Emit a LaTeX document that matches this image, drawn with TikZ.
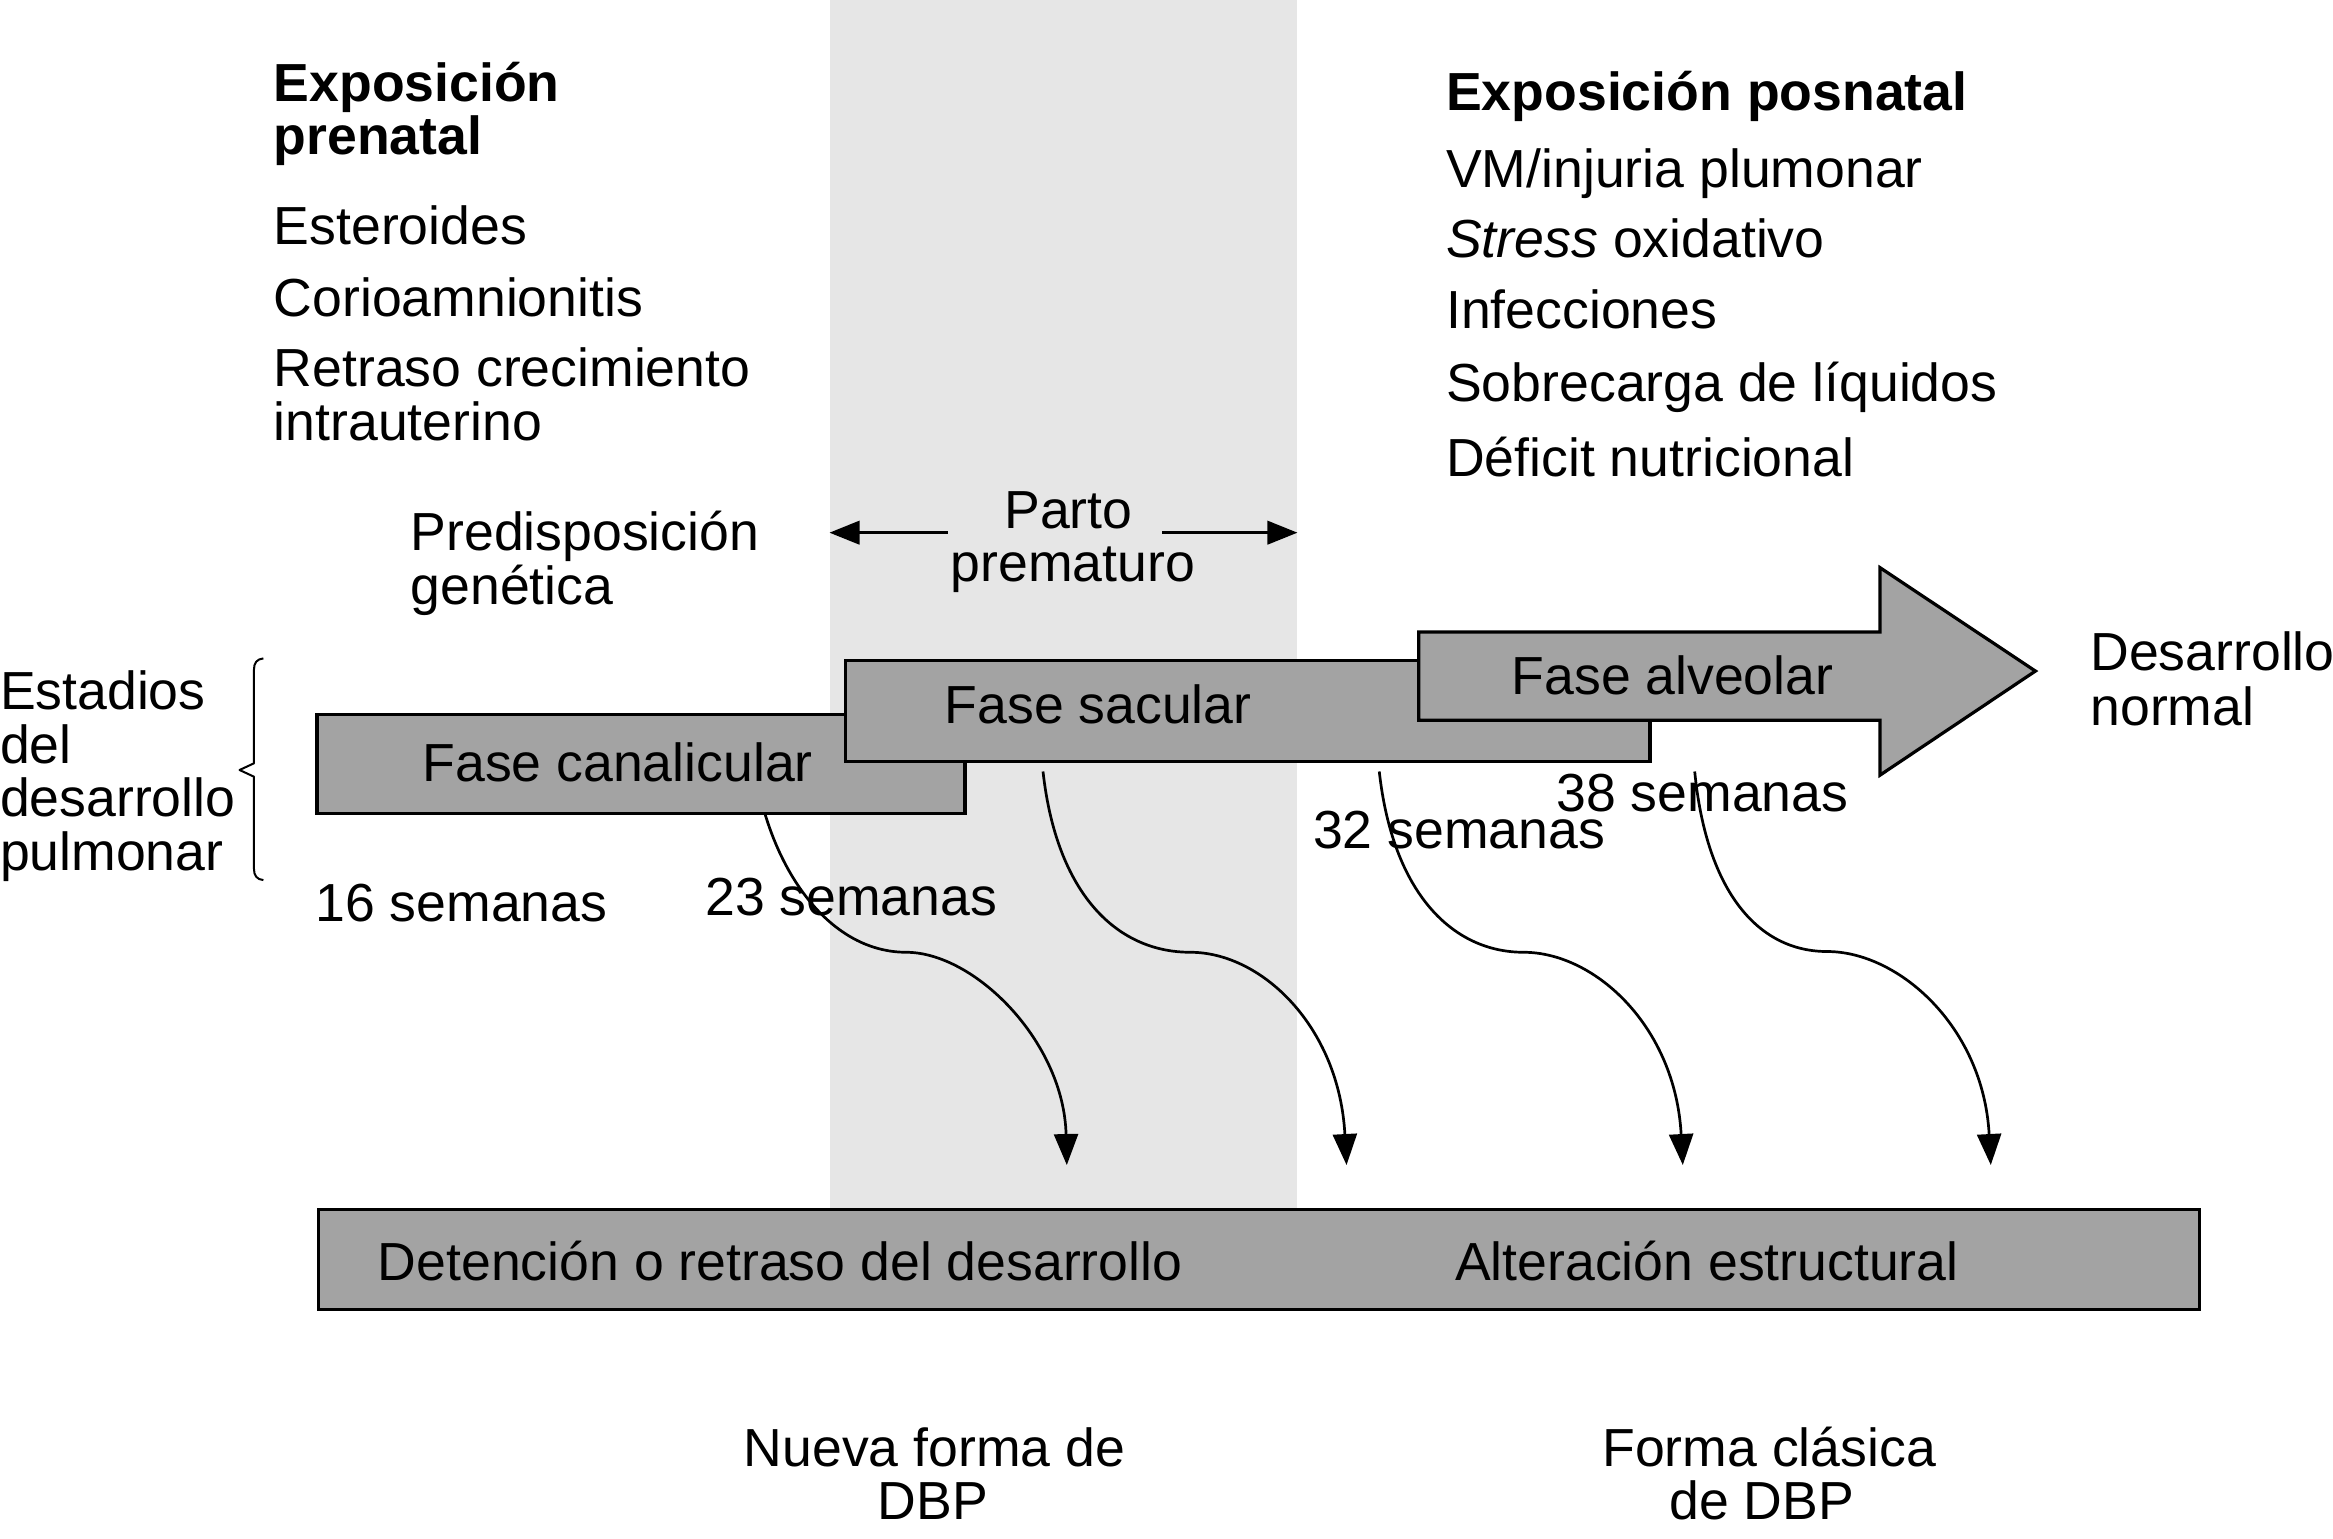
\documentclass[tikz,border=0pt]{standalone}
\usepackage{fontspec}
\setmainfont{Liberation Sans}
\usetikzlibrary{arrows.meta,fit}
\definecolor{bandgray}{RGB}{230,230,230}
\definecolor{boxgray}{RGB}{163,163,163}
\tikzset{
  txt/.style={inner sep=0pt, outer sep=0pt, font=\fontsize{26.8}{26.8}\selectfont},
  lw/.style={txt, anchor=base west},
  lc/.style={txt, anchor=base},
  phasebox/.style={draw=black, line width=1.6pt, fill=boxgray, inner sep=0pt, outer sep=0pt},
  curvearr/.style={line width=1.35pt, -{Triangle[length=15.5pt,width=12pt]}},
  partoarr/.style={line width=1.35pt, -{Triangle[length=15pt,width=11.7pt]}},
  bracepen/.style={line width=1pt, line join=round}
}
\begin{document}
\begin{tikzpicture}[x=0.744pt, y=-0.744pt]
\useasboundingbox (0,0) rectangle (1568,1034);
% shaded band (preterm birth window)
\fill[bandgray] (557.5,0) rectangle (872,813);

% prenatal exposure
\node[lw] (pre1) at (184,68) {\bfseries Exposición};
\node[lw] (pre2) at (184,104) {\bfseries prenatal};
\node[lw] (ester) at (184,164) {Esteroides};
\node[lw] (corio) at (184,213) {Corioamnionitis};
\node[lw] (rci1) at (184,260) {Retraso crecimiento};
\node[lw] (rci2) at (184,296) {intrauterino};
\node[lw] (gen1) at (276,370) {Predisposición};
\node[lw] (gen2) at (276,406) {genética};

% postnatal exposure
\node[lw] (post) at (972,74) {\bfseries Exposición posnatal};
\node[lw] (vm) at (972,126) {VM/injuria plumonar};
\node[lw] (stress) at (972,173) {\textit{Stress} oxidativo};
\node[lw] (infec) at (972,221) {Infecciones};
\node[lw] (sobre) at (972,270) {Sobrecarga de líquidos};
\node[lw] (defic) at (972,320) {Déficit nutricional};

% parto prematuro
\node[lc] (parto1) at (718,355) {Parto};
\node[lc] (parto2) at (721,391) {prematuro};
\coordinate (pl0) at (637,358);
\coordinate (pl1) at (557.5,358);
\coordinate (pr0) at (781,358);
\coordinate (pr1) at (872,358);
\draw[partoarr] (pl0) -- (pl1);
\draw[partoarr] (pr0) -- (pr1);

% stages label + brace
\node[lw] (est1) at (0,477) {Estadios};
\node[lw] (est2) at (0,513) {del};
\node[lw] (est3) at (0,549) {desarrollo};
\node[lw] (est4) at (0,585) {pulmonar};
\draw[bracepen] (177,442.5) .. controls (172.5,443) and (170.7,445.5) .. (170.7,450)
  -- (170.7,513) -- (161,517.5) -- (170.7,522) -- (170.7,584)
  .. controls (170.7,588.5) and (172.5,591) .. (177,591.5);

% phases
\node[phasebox, fit={(213,480) (648.5,546.5)}] (canal) {};
\node[lw] (tcanal) at (284,525.5) {Fase canalicular};
\node[phasebox, fit={(568,444) (1109,512)}] (sacu) {};
\node[lw] (tsacu) at (635,486.5) {Fase sacular};
\draw[phasebox, line join=miter] (953.5,424.7) -- (1263.5,424.7) -- (1263.5,381.5) -- (1368,451)
  -- (1263.5,521) -- (1263.5,484) -- (953.5,484) -- cycle;
\node[lw] (talve) at (1016,467) {Fase alveolar};
\node[lw] (des1) at (1405,450.5) {Desarrollo};
\node[lw] (des2) at (1405,487.5) {normal};

% weeks
\node[lw] (w16) at (212,619.5) {16 semanas};
\node[lw] (w23) at (474,615) {23 semanas};
\node[lw] (w32) at (882.5,570) {32 semanas};
\node[lw] (w38) at (1046,545.5) {38 semanas};

% curved arrows
\coordinate (s1) at (514,546.5);  \coordinate (m1) at (609,640);    \coordinate (e1) at (717,783);
\coordinate (s2) at (701,518.5);  \coordinate (m2) at (800,640);    \coordinate (e2) at (905,783);
\coordinate (s3) at (927,518.5);  \coordinate (m3) at (1024,640);   \coordinate (e3) at (1131,783);
\coordinate (s4) at (1139,518.5); \coordinate (m4) at (1228,639.5); \coordinate (e4) at (1338,783);
\draw[curvearr] (s1) .. controls (530,600) and (565,640) .. (m1) .. controls (655,640) and (715,700) .. (e1);
\draw[curvearr] (s2) .. controls (710,600) and (750,640) .. (m2) .. controls (848,640) and (900,690) .. (e2);
\draw[curvearr] (s3) .. controls (936,600) and (976,640) .. (m3) .. controls (1072,640) and (1126,690) .. (e3);
\draw[curvearr] (s4) .. controls (1147,600) and (1182,639.5) .. (m4) .. controls (1276,639.5) and (1333,690) .. (e4);

% bottom bar
\node[phasebox, fit={(214,813) (1478.5,880)}] (bar) {};
\node[lw] (det) at (254,860.5) {Detención o retraso del desarrollo};
\node[lw] (alt) at (978,860.5) {Alteración estructural};

% outcomes
\node[lc] (nueva1) at (628,985.5) {Nueva forma de};
\node[lc] (nueva2) at (627,1021.5) {DBP};
\node[lc] (clas1) at (1189,985.5) {Forma clásica};
\node[lc] (clas2) at (1184,1021.5) {de DBP};
\end{tikzpicture}
\end{document}
